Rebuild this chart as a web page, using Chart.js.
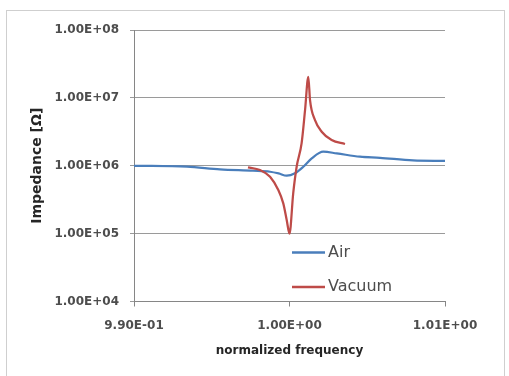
<!DOCTYPE html>
<html>
<head>
<meta charset="utf-8">
<script src="https://cdn.jsdelivr.net/npm/chart.js@4.4.1/dist/chart.umd.min.js"></script>
<style>
    html, body { margin: 0; padding: 0; background: #fff; }
    #wrap { position: relative; width: 509px; height: 376px; }
</style>
</head>
<body>
<div id="wrap"><canvas id="impChart" width="509" height="376"></canvas></div>
<script>
// Data
const airFreq = [0.99, 0.99341, 0.99553, 0.99765, 0.99875, 0.9993, 0.99982, 1.00035, 1.00089, 1.00143, 1.00217, 1.00304, 1.00453, 1.00582, 1.00794, 1.01];
const airImpedance = [1.0e6, 0.967e6, 0.885e6, 0.844e6, 0.816e6, 0.77e6, 0.713e6, 0.773e6, 0.967e6, 1.285e6, 1.61e6, 1.52e6, 1.36e6, 1.31e6, 1.2e6, 1.18e6];

const vacuumFreq = [0.99733, 0.9981, 0.99875, 0.99928, 0.9996, 0.99982, 1.0, 1.00024, 1.00046, 1.00078, 1.001, 1.00121, 1.00132, 1.00164, 1.00207, 1.00271, 1.00357];
const vacuumImpedance = [0.947e6, 0.865e6, 0.689e6, 0.439e6, 0.279e6, 0.159e6, 1.0e5, 0.396e6, 0.967e6, 2.16e6, 6.6e6, 2.04e7, 9.3e6, 4.71e6, 3.17e6, 2.39e6, 2.09e6];

const xTicks = [0.99, 1.0, 1.01];
const yTicks = [1e4, 1e5, 1e6, 1e7, 1e8];

// 1.00E+06 style labels, like the spreadsheet
const formatSci = (v) => {
    const [m, e] = Number(v).toExponential(2).split('e');
    const n = parseInt(e, 10);
    return `${m}E${n < 0 ? '-' : '+'}${String(Math.abs(n)).padStart(2, '0')}`;
};

const toPoints = (xs, ys) => xs.map((x, i) => ({ x: x, y: ys[i] }));

const tickFont = { family: 'DejaVu Sans', size: 12, weight: 'bold' };

// outer frame + legend inside the plot
const framePlugin = {
    id: 'frame',
    beforeDraw(chart) {
        const c = chart.ctx;
        c.save();
        c.fillStyle = '#fff';
        c.fillRect(0, 0, chart.width, chart.height);
        c.strokeStyle = '#cfcfcf';
        c.lineWidth = 1;
        c.strokeRect(6.5, 10.5, 498, 380);
        c.restore();
    },
    afterDraw(chart) {
        const c = chart.ctx;
        const rows = [252.5, 287];
        c.save();
        c.font = '16px "DejaVu Sans"';
        c.textBaseline = 'middle';
        chart.data.datasets.forEach((ds, i) => {
            const y = rows[i];
            c.strokeStyle = ds.borderColor;
            c.lineWidth = 2.5;
            c.beginPath();
            c.moveTo(292, y);
            c.lineTo(325, y);
            c.stroke();
            c.fillStyle = '#4d4d4d';
            c.fillText(ds.label, 328, y);
        });
        c.restore();
    }
};

const ctx = document.getElementById('impChart').getContext('2d');
const chart = new Chart(ctx, {
    type: 'scatter',
    data: {
        datasets: [{
            label: 'Air',
            data: toPoints(airFreq, airImpedance),
            showLine: true,
            borderColor: '#4A7EBB',
            borderWidth: 2.25,
            pointRadius: 0,
            cubicInterpolationMode: 'monotone',
            order: 1
        }, {
            label: 'Vacuum',
            data: toPoints(vacuumFreq, vacuumImpedance),
            showLine: true,
            borderColor: '#BE4B48',
            borderWidth: 2.25,
            pointRadius: 0,
            cubicInterpolationMode: 'monotone',
            order: 0
        }]
    },
    options: {
        responsive: false,
        animation: false,
        devicePixelRatio: 1,
        layout: { padding: { top: 30, right: 64, bottom: 14, left: 20 } },
        plugins: {
            legend: { display: false },
            tooltip: { enabled: false }
        },
        scales: {
            x: {
                type: 'linear',
                min: 0.99,
                max: 1.01,
                afterBuildTicks: (axis) => { axis.ticks = xTicks.map(v => ({ value: v })); },
                afterFit: (axis) => { axis.height = 376 - 14 - 301.5; },
                grid: { drawOnChartArea: false, color: '#868686', tickLength: 5 },
                border: { color: '#868686' },
                ticks: {
                    color: '#4d4d4d',
                    font: tickFont,
                    padding: 12,
                    maxRotation: 0,
                    callback: (v) => formatSci(v)
                },
                title: {
                    display: true,
                    text: 'normalized frequency',
                    color: '#262626',
                    font: { family: 'DejaVu Sans', size: 12, weight: 'bold' },
                    padding: { top: 0, bottom: 4 }
                }
            },
            y: {
                type: 'logarithmic',
                min: 1e4,
                max: 1e8,
                afterBuildTicks: (axis) => { axis.ticks = yTicks.map(v => ({ value: v })); },
                afterFit: (axis) => { axis.width = 134 - 20; },
                grid: { color: '#9a9a9a', tickLength: 4 },
                border: { color: '#868686' },
                ticks: {
                    color: '#4d4d4d',
                    font: tickFont,
                    padding: 11,
                    callback: (v) => formatSci(v)
                },
                title: {
                    display: true,
                    text: 'Impedance [Ω]',
                    color: '#262626',
                    font: { family: 'DejaVu Sans', size: 14, weight: 'bold' },
                    padding: { top: 9, bottom: 0 }
                }
            }
        }
    },
    plugins: [framePlugin]
});
</script>
</body>
</html>
